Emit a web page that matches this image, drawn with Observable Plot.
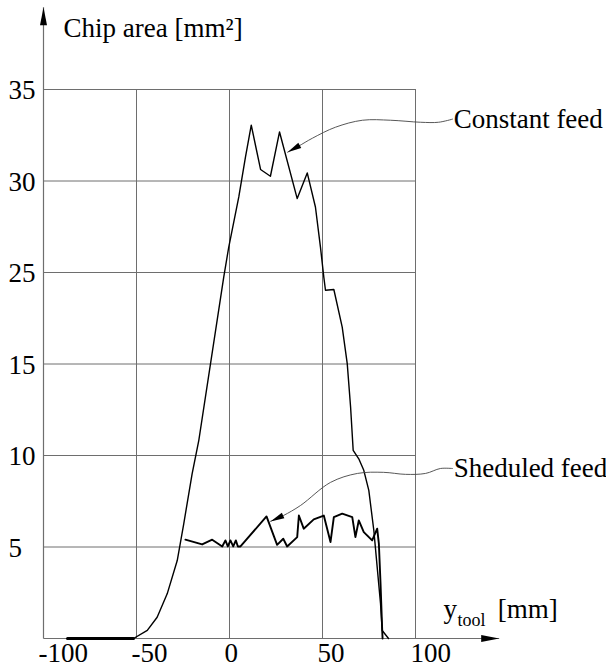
<!DOCTYPE html>
<html>
<head>
<meta charset="utf-8">
<script src="https://cdn.jsdelivr.net/npm/d3@7"></script>
<script src="https://cdn.jsdelivr.net/npm/@observablehq/plot@0.6"></script>
<style>
  html, body { margin: 0; padding: 0; background: white; }
</style>
</head>
<body>
<div id="chart"></div>
<script>
// ---- data (y values in the picture's linear units: gridlines every 5) ----
const constantX = [-87.1, -51.6, -44.2, -38.9, -33.5, -28.1, -24.6, -20.1, -16.5, -3.1, -0.4, 5.0, 8.6, 11.7, 16.7, 22.0, 26.9, 36.4, 41.8, 46.2, 48.9, 50.7, 51.6, 56.1, 60.6, 63.3, 65.1, 66.5, 69.5, 72.2, 74.9, 77.6, 79.4, 81.2, 82.1, 85.5];
const constantY = [0, 0, 0.44, 1.16, 2.44, 4.26, 6.27, 9.0, 10.83, 19.75, 21.39, 24.13, 26.32, 28.05, 25.63, 25.26, 27.68, 24.04, 25.44, 23.58, 21.39, 19.75, 19.03, 19.07, 17.02, 15.02, 12.65, 10.28, 9.82, 9.19, 8.09, 5.90, 3.90, 1.90, 0.44, 0];

const scheduledX = [-23.7, -14.7, -9.3, -3.9, -2.2, -0.9, 0.5, 2.0, 3.4, 4.5, 5.9, 19.9, 25.6, 28.9, 31.0, 36.4, 37.3, 39.9, 45.3, 50.7, 54.3, 56.1, 60.6, 66.0, 67.7, 69.5, 72.2, 76.7, 79.4, 80.3, 81.2, 82.1, 82.3];
const scheduledY = [5.40, 5.14, 5.40, 5.03, 5.36, 5.03, 5.36, 5.03, 5.36, 5.03, 5.03, 6.67, 5.12, 5.45, 5.03, 5.54, 6.72, 6.00, 6.51, 6.72, 5.27, 6.63, 6.82, 6.63, 5.54, 6.45, 5.81, 5.36, 6.00, 5.19, 3.01, 0.44, 0];

// axis ticks (the y labels as printed in the figure)
const xTicks = [-100, -50, 0, 50, 100];
const yTickPos = [5, 10, 15, 20, 25, 30];
const yTickLabels = ["5", "10", "15", "25", "30", "35"];

// annotation leader paths (data units)
const noteConstX = [119.9, 112.4, 102.7, 86.6, 71.5, 57.0, 44.6, 37.1, 31.2];
const noteConstY = [28.38, 28.21, 28.21, 28.32, 28.32, 27.94, 27.34, 26.90, 26.57];
const noteSchedX = [119.9, 113.4, 105.4, 94.6, 82.8, 68.8, 54.3, 38.2, 29.0, 22.0];
const noteSchedY = [9.29, 9.29, 9.02, 8.97, 9.08, 9.02, 8.53, 7.27, 6.72, 6.40];

const labels = ["Constant feed", "Sheduled feed"];
const yTitle = "Chip area [mm²]";
const xTitleParts = ["y", "tool", "[mm]"];

// ---- build tables ----
const zip = (xs, ys) => xs.map((x, i) => ({x, y: ys[i]}));
const constant = zip(constantX, constantY);
const scheduled = zip(scheduledX, scheduledY);
const noteConst = zip(noteConstX, noteConstY);
const noteSched = zip(noteSchedX, noteSchedY);
const idle = constant.filter(d => d.y === 0 && d.x < 0);

const axisHead = {draw(ctx) { ctx.moveTo(0, 0); ctx.lineTo(-18, -3.5); ctx.lineTo(-18, 3.5); ctx.closePath(); }};
const noteHead = {draw(ctx) { ctx.moveTo(0, 0); ctx.lineTo(-14, -3); ctx.lineTo(-14, 3); ctx.closePath(); }};

const FONT = "Liberation Serif, Times New Roman, serif";
const grid = "#6e6e6e";

const chart = Plot.plot({
  width: 606,
  height: 668,
  marginLeft: 43,
  marginRight: 191,
  marginTop: 89,
  marginBottom: 30,
  style: {fontFamily: FONT, fontSize: "27px", background: "white", color: "black"},
  x: {domain: [-100, 100]},
  y: {domain: [0, 30]},
  marks: [
    Plot.gridX(xTicks.slice(1), {stroke: grid, strokeOpacity: 1, strokeWidth: 1}),
    Plot.gridY(yTickPos, {stroke: grid, strokeOpacity: 1, strokeWidth: 1}),
    // axis lines with arrows
    Plot.link([{x1: xTicks[0], y1: 0, x2: 145, y2: 0}], {x1: "x1", y1: "y1", x2: "x2", y2: "y2", stroke: grid, strokeWidth: 1.2}),
    Plot.link([{x1: xTicks[0], y1: 0, x2: xTicks[0], y2: 34.5}], {x1: "x1", y1: "y1", x2: "x2", y2: "y2", stroke: grid, strokeWidth: 1.2}),
    Plot.dot([{x: 145, y: 0}], {x: "x", y: "y", symbol: axisHead, fill: "black", r: 5}),
    Plot.dot([{x: xTicks[0], y: 34.5}], {x: "x", y: "y", symbol: axisHead, fill: "black", r: 5, rotate: -90}),
    Plot.axisX({ticks: xTicks, tickSize: 0, tickPadding: 4, textAnchor: "start", dx: -5, tickFormat: d => String(d), fontSize: 27, label: null}),
    Plot.axisY({ticks: yTickPos, tickSize: 0, tickPadding: 0, textAnchor: "start", dx: -35, dy: 1, tickFormat: d => yTickLabels[yTickPos.indexOf(d)], fontSize: 27, label: null}),
    // data
    Plot.line(idle, {x: "x", y: "y", stroke: "black", strokeWidth: 3}),
    Plot.line(constant, {x: "x", y: "y", stroke: "black", strokeWidth: 1.4}),
    Plot.line(scheduled, {x: "x", y: "y", stroke: "black", strokeWidth: 1.9}),
    // annotations
    Plot.line(noteConst, {x: "x", y: "y", curve: "catmull-rom", stroke: "#444", strokeWidth: 0.9}),
    Plot.line(noteSched, {x: "x", y: "y", curve: "catmull-rom", stroke: "#444", strokeWidth: 0.9}),
    Plot.dot([noteConst[noteConst.length - 1]], {x: "x", y: "y", symbol: noteHead, fill: "black", r: 5, rotate: 151}),
    Plot.dot([noteSched[noteSched.length - 1]], {x: "x", y: "y", symbol: noteHead, fill: "black", r: 5, rotate: 155}),
    Plot.text([labels[0]], {x: 120.5, y: noteConstY[0], text: d => d, textAnchor: "start", lineAnchor: "middle", fontSize: 27, fill: "black"}),
    Plot.text([labels[1]], {x: 120.5, y: noteSchedY[0], text: d => d, textAnchor: "start", lineAnchor: "middle", fontSize: 27, fill: "black"}),
    // axis titles
    Plot.text([yTitle], {x: -89.2, y: 33.35, text: d => d, textAnchor: "start", lineAnchor: "middle", fontSize: 27, fill: "black"}),
    Plot.text([xTitleParts[0]], {x: 115.1, y: 1.59, text: d => d, textAnchor: "start", lineAnchor: "middle", fontSize: 27, fill: "black"}),
    Plot.text([xTitleParts[1]], {x: 122.6, y: 0.98, text: d => d, textAnchor: "start", lineAnchor: "middle", fontSize: 18, fill: "black"}),
    Plot.text([xTitleParts[2]], {x: 144.2, y: 1.59, text: d => d, textAnchor: "start", lineAnchor: "middle", fontSize: 27, fill: "black"})
  ]
});
document.getElementById("chart").append(chart);
</script>
</body>
</html>
